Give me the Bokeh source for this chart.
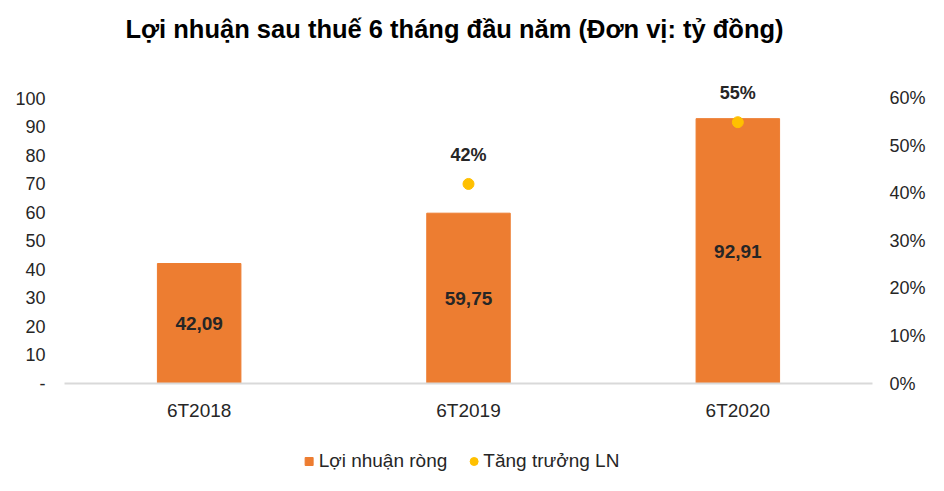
from bokeh.plotting import figure
from bokeh.layouts import column
from bokeh.models import (ColumnDataSource, LinearAxis, Range1d, FactorRange,
                          NumeralTickFormatter, Legend, LegendItem, FixedTicker,
                          LabelSet, Label)
from bokeh.core.properties import value
from bokeh.embed import file_html
from bokeh.resources import INLINE

# dữ liệu
periods = ["6T2018", "6T2019", "6T2020"]
profit = [42.09, 59.75, 92.91]          # tỷ đồng
growth = [None, 0.42, 0.55]             # tăng trưởng LN
left_ticks = [0, 10, 20, 30, 40, 50, 60, 70, 80, 90, 100]
right_ticks = [0, 0.1, 0.2, 0.3, 0.4, 0.5, 0.6]

FONT = "Liberation Sans"
ORANGE = "#ED7D31"
YELLOW = "#FFC000"
TXT = "#262626"

bars = ColumnDataSource(dict(
    x=periods,
    top=profit,
    mid=[v / 2 for v in profit],
    label=[f"{v:.2f}".replace(".", ",") for v in profit],
))
pts = ColumnDataSource(dict(
    x=[p for p, g in zip(periods, growth) if g is not None],
    y=[g for g in growth if g is not None],
    label=[f"{g * 100:.0f}%" for g in growth if g is not None],
))

# tiêu đề
tfig = figure(width=928, height=56, x_range=(0, 1), y_range=(0, 1),
              x_axis_type=None, y_axis_type=None, output_backend="svg",
              toolbar_location=None, min_border=0)
tfig.outline_line_color = None
tfig.grid.grid_line_color = None
tfig.add_layout(Label(x=0.5, y=0.5, x_offset=-14,
                      text="Lợi nhuận sau thuế 6 tháng đầu năm (Đơn vị: tỷ đồng)",
                      text_align="center", text_baseline="middle",
                      text_font=FONT, text_font_size="25.5px",
                      text_font_style="bold", text_color="black"))

# khung chính: trục trái 0-100 và trục phải 0-60% trùng nhau, chừa chỗ phía trên cho nhãn %
top_pad = 1.098
p = figure(width=928, height=390, x_range=FactorRange(*periods),
           y_range=Range1d(0, 100 * top_pad), output_backend="svg",
           toolbar_location=None, min_border_left=64, min_border_right=47,
           min_border_top=14, min_border_bottom=63)
p.outline_line_color = None
p.grid.grid_line_color = None

p.extra_y_ranges = {"pct": Range1d(0, 0.6 * top_pad)}

p.vbar(x="x", top="top", width=0.31, source=bars, color=ORANGE)
p.scatter(x="x", y="y", source=pts, y_range_name="pct", size=11, color=YELLOW)

p.text(x="x", y="mid", text="label", source=bars, text_align="center",
       text_baseline="middle", text_font=value(FONT), text_font_size="19px",
       text_font_style="bold", text_color=TXT)
p.add_layout(LabelSet(x="x", y="y", text="label", source=pts,
                      y_range_name="pct", y_offset=29, text_align="center",
                      text_baseline="middle", text_font=value(FONT),
                      text_font_size="18px", text_font_style="bold",
                      text_color=TXT))

# trục
p.xaxis.axis_line_color = "#D9D9D9"
p.xaxis.axis_line_width = 2
p.xaxis.major_tick_line_color = None
p.xaxis.minor_tick_line_color = None
p.xaxis.major_label_text_font = FONT
p.xaxis.major_label_text_font_size = "19px"
p.xaxis.major_label_text_color = TXT
p.xaxis.major_label_standoff = 10

p.yaxis.ticker = FixedTicker(ticks=left_ticks)
p.yaxis.major_label_overrides = {0: "-"}

right = LinearAxis(y_range_name="pct", ticker=FixedTicker(ticks=right_ticks),
                   formatter=NumeralTickFormatter(format="0%"))
p.add_layout(right, "right")

for ax in p.yaxis:
    ax.axis_line_color = None
    ax.major_tick_line_color = None
    ax.minor_tick_line_color = None
    ax.major_label_text_font = FONT
    ax.major_label_text_font_size = "18px"
    ax.major_label_text_color = TXT
    ax.major_label_standoff = 13
right.major_label_standoff = 11

# chú thích (hình riêng bên dưới; các điểm nằm ngoài khung nên không hiện)
leg = figure(width=910, height=29, x_range=FactorRange(*periods),
             y_range=Range1d(-2, -1), x_axis_type=None, y_axis_type=None,
             output_backend="svg", toolbar_location=None, min_border=0)
leg.outline_line_color = None
leg.grid.grid_line_color = None
g1 = leg.scatter(x="x", y="top", source=bars, marker="square", color=ORANGE)
g2 = leg.scatter(x="x", y="y", source=pts, marker="circle", color=YELLOW)
legend = Legend(items=[LegendItem(label="Lợi nhuận ròng", renderers=[g1]),
                       LegendItem(label="Tăng trưởng LN", renderers=[g2])],
                orientation="horizontal", location="center",
                border_line_color=None, background_fill_alpha=0,
                label_text_font=FONT, label_text_font_size="19px",
                label_text_color=TXT, glyph_width=20, glyph_height=22,
                spacing=16, label_standoff=0, padding=2, margin=0)
leg.add_layout(legend)

open("out.html", "w").write(file_html(column(tfig, p, leg), INLINE))
